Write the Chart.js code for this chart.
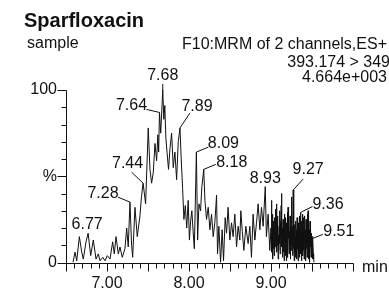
<!DOCTYPE html>
<html><head><meta charset="utf-8">
<script src="https://cdn.jsdelivr.net/npm/chart.js@4"></script>
<style>html,body{margin:0;padding:0;background:#fff;overflow:hidden}</style>
</head><body>
<canvas id="c" width="389" height="289"></canvas>
<script>
// ---- data ----
const times = [
 6.585,6.610,6.631,6.663,6.692,6.711,6.744,6.770,6.801,6.833,6.866,6.894,6.915,6.948,6.976,
 7.004,7.037,7.069,7.089,7.110,7.138,7.158,7.186,7.219,7.240,7.259,7.280,7.300,7.313,7.341,
 7.369,7.402,7.420,7.440,7.471,7.503,7.524,7.544,7.564,7.585,7.605,7.620,7.630,7.640,7.655,
 7.680,7.693,7.705,7.718,7.732,7.750,7.768,7.788,7.808,7.828,7.849,7.869,7.890,7.905,7.922,
 7.938,7.955,7.972,7.990,8.005,8.020,8.035,8.050,8.065,8.090,8.105,8.121,8.141,8.157,8.180,
 8.194,8.214,8.234,8.255,8.275,8.295,8.315,8.336,8.348,8.364,8.385,8.404,8.421,8.441,8.458,
 8.477,8.498,8.519,8.538,8.559,8.580,8.599,8.620,8.632,8.650,8.669,8.693,8.721,8.742,8.762,
 8.782,8.803,8.823,8.843,8.864,8.884,8.904,8.930,8.944,8.965,8.985,
 9.000,9.006,9.010,9.014,9.018,9.022,9.026,9.030,9.034,9.038,9.042,9.046,9.050,9.054,9.058,
 9.062,9.067,9.071,9.075,9.079,9.083,9.087,9.091,9.095,9.100,9.104,9.108,9.112,9.116,9.120,
 9.124,9.128,9.132,9.136,9.140,9.144,9.148,9.152,9.156,9.160,9.164,9.168,9.172,9.176,9.180,
 9.184,9.188,9.192,9.196,9.200,9.204,9.208,9.212,9.216,9.220,9.224,9.228,9.232,9.236,9.240,
 9.244,9.248,9.252,9.256,9.260,9.264,9.268,9.271,9.275,9.279,9.283,9.287,9.291,9.295,9.299,
 9.303,9.307,9.311,9.315,9.319,9.323,9.327,9.331,9.335,9.339,9.343,9.347,9.351,9.356,9.360,
 9.364,9.368,9.372,9.376,9.380,9.384,9.388,9.392,9.396,9.400,9.404,9.408,9.412,9.416,9.420,
 9.424,9.428,9.432,9.436,9.440,9.444,9.448,9.452,9.456,9.460,9.464,9.468,9.472,9.476,9.480,
 9.484,9.488,9.492,9.496,9.500,9.504,9.508,9.511,9.516,9.520,9.525
];
const intensities = [
 0,6,1,15,6,2,12,17,4,13,2,5,1,3,1,
 4,2,12,5,15,5,9,3,8,20,9,35,10,3,32,
 15,27,38,46,34,78,54,46,52,69,59,74,64,87,75,
 100,83,91,72,64,54,66,75,55,64,48,70,78,60,43,
 25,33,20,36,13,24,30,18,8,64,13,34,30,44,54,
 36,25,32,19,28,15,23,39,5,21,0,19,1,26,17,
 32,13,23,15,28,9,21,13,30,18,7,21,11,21,3,
 28,13,23,34,19,32,21,44,15,28,7,
 20,36,6,14,28,2,19,8,24,4,15,26,9,18,31,
 12,34,6,22,10,27,2,16,7,21,11,30,5,24,14,
 33,40,9,20,3,17,25,6,22,1,28,12,19,4,26,
 8,1,23,11,29,3,32,14,24,5,18,9,27,2,20,
 7,30,38,10,21,4,25,42,8,17,1,22,6,15,3,
 24,10,19,2,26,8,17,1,23,6,20,3,27,12,29,
 5,18,1,24,9,28,4,20,7,26,2,22,27,5,19,
 1,25,8,21,3,28,11,30,2,23,7,19,0,24,9,
 20,3,17,6,15,2,10,14,5,2,0
];
const peakLabels = ['6.77','7.28','7.44','7.64','7.68','7.89','8.09','8.18','8.93','9.27','9.36','9.51'];
const peakTimes  = [6.77,7.28,7.44,7.64,7.68,7.89,8.09,8.18,8.93,9.27,9.36,9.51];
const peakValues = [17,35,46,87,100,78,64,54,44,42,29,14];
const xTickValues = [7,8,9];
const xTickLabels = ['7.00','8.00','9.00'];
const yTickValues = [0,50,100];
const yTickLabels = ['0','%','100'];
const titleText = 'Sparfloxacin';
const sampleText = 'sample';
const infoLines = ['F10:MRM of 2 channels,ES+','393.174 > 349','4.664e+003'];
const xUnit = 'min';

// ---- styling / placement (not data) ----
const labelPlacement = [
 {dx:-1,dy:-9,  lx:null,ly:null},
 {dx:-27,dy:-9, lx:-12,ly:-5},
 {dx:-15.5,dy:-20,lx:-11.5,ly:-11},
 {dx:-28,dy:-6.5,lx:-13,ly:-3},
 {dx:0,dy:-14, lx:0,ly:-6},
 {dx:17,dy:-21, lx:10,ly:-15},
 {dx:27,dy:-9, lx:12,ly:-5},
 {dx:28,dy:-7, lx:12,ly:-5},
 {dx:0,dy:-8,  lx:null,ly:null},
 {dx:15,dy:-20, lx:10,ly:-11},
 {dx:27.5,dy:-7.5,lx:12,ly:-6},
 {dx:26,dy:-7, lx:10,ly:-4}
];
const FONT = '16px "Liberation Sans", Arial, sans-serif';
const INK = '#111';

const axesPlugin = {
  id:'msAxes',
  beforeDatasetsDraw(chart){
    const {ctx, chartArea:a, scales:{x,y}} = chart;
    ctx.save();
    ctx.strokeStyle = INK; ctx.lineWidth = 1;
    const ax = Math.round(a.left)+0.5, ay = Math.round(y.getPixelForValue(0))+0.5;
    ctx.beginPath();
    ctx.moveTo(ax, Math.round(y.getPixelForValue(100))+0.5); ctx.lineTo(ax, ay);
    ctx.lineTo(Math.round(a.right)+0.5, ay);
    for(let v=0; v<=100; v+=10){
      const py = Math.round(y.getPixelForValue(v))+0.5;
      const len = (v%50===0)?9:5;
      ctx.moveTo(ax-len, py); ctx.lineTo(ax, py);
    }
    for(let k=65; k<=100; k++){
      const t = k/10;
      const px = Math.round(x.getPixelForValue(t))+0.5;
      const len = (k%5===0)?8:5;
      ctx.moveTo(px, ay); ctx.lineTo(px, ay+len);
    }
    ctx.stroke();
    ctx.fillStyle = INK; ctx.font = FONT; ctx.textBaseline='middle';
    ctx.textAlign='center';
    xTickValues.forEach((v,i)=>ctx.fillText(xTickLabels[i], x.getPixelForValue(v), ay+20));
    ctx.textAlign='right';
    yTickValues.forEach((v,i)=>ctx.fillText(yTickLabels[i], 57, y.getPixelForValue(v)));
    ctx.textAlign='left';
    ctx.fillText(xUnit, a.right+9, ay+4);
    ctx.textBaseline='alphabetic';
    ctx.font = 'bold 20px "Liberation Sans", Arial, sans-serif';
    ctx.fillText(titleText, 24, 27);
    ctx.font = FONT;
    ctx.fillText(sampleText, 27, 48);
    ctx.textAlign='right';
    ctx.fillText(infoLines[0], 387, 48.5);
    ctx.fillText(infoLines[1], 390, 66.5);
    ctx.fillText(infoLines[2], 387, 81.5);
    ctx.restore();
  },
  afterDatasetsDraw(chart){
    const {ctx, scales:{x,y}} = chart;
    ctx.save();
    ctx.strokeStyle = INK; ctx.fillStyle = INK; ctx.lineWidth = 1;
    ctx.font = FONT; ctx.textAlign='center'; ctx.textBaseline='middle';
    peakLabels.forEach((lab,i)=>{
      const px = x.getPixelForValue(peakTimes[i]);
      const py = y.getPixelForValue(peakValues[i]);
      const p = labelPlacement[i];
      if(p.lx!==null){
        ctx.beginPath(); ctx.moveTo(px+p.lx, py+p.ly); ctx.lineTo(px, py); ctx.stroke();
      }
      ctx.fillText(lab, px+p.dx, py+p.dy);
    });
    ctx.restore();
  }
};

new Chart(document.getElementById('c'), {
  type:'line',
  data:{datasets:[{
    data: times.map((t,i)=>({x:t, y:intensities[i]})),
    borderColor:INK, borderWidth:1, pointRadius:0, tension:0, fill:false
  }]},
  options:{
    responsive:false, animation:false, devicePixelRatio:1,
    layout:{padding:{left:66,right:36,top:90,bottom:26.5}},
    scales:{
      x:{type:'linear',min:6.5,max:10,display:false},
      y:{min:0,max:100,display:false}
    },
    plugins:{legend:{display:false},tooltip:{enabled:false}}
  },
  plugins:[axesPlugin]
});
</script>
</body></html>
